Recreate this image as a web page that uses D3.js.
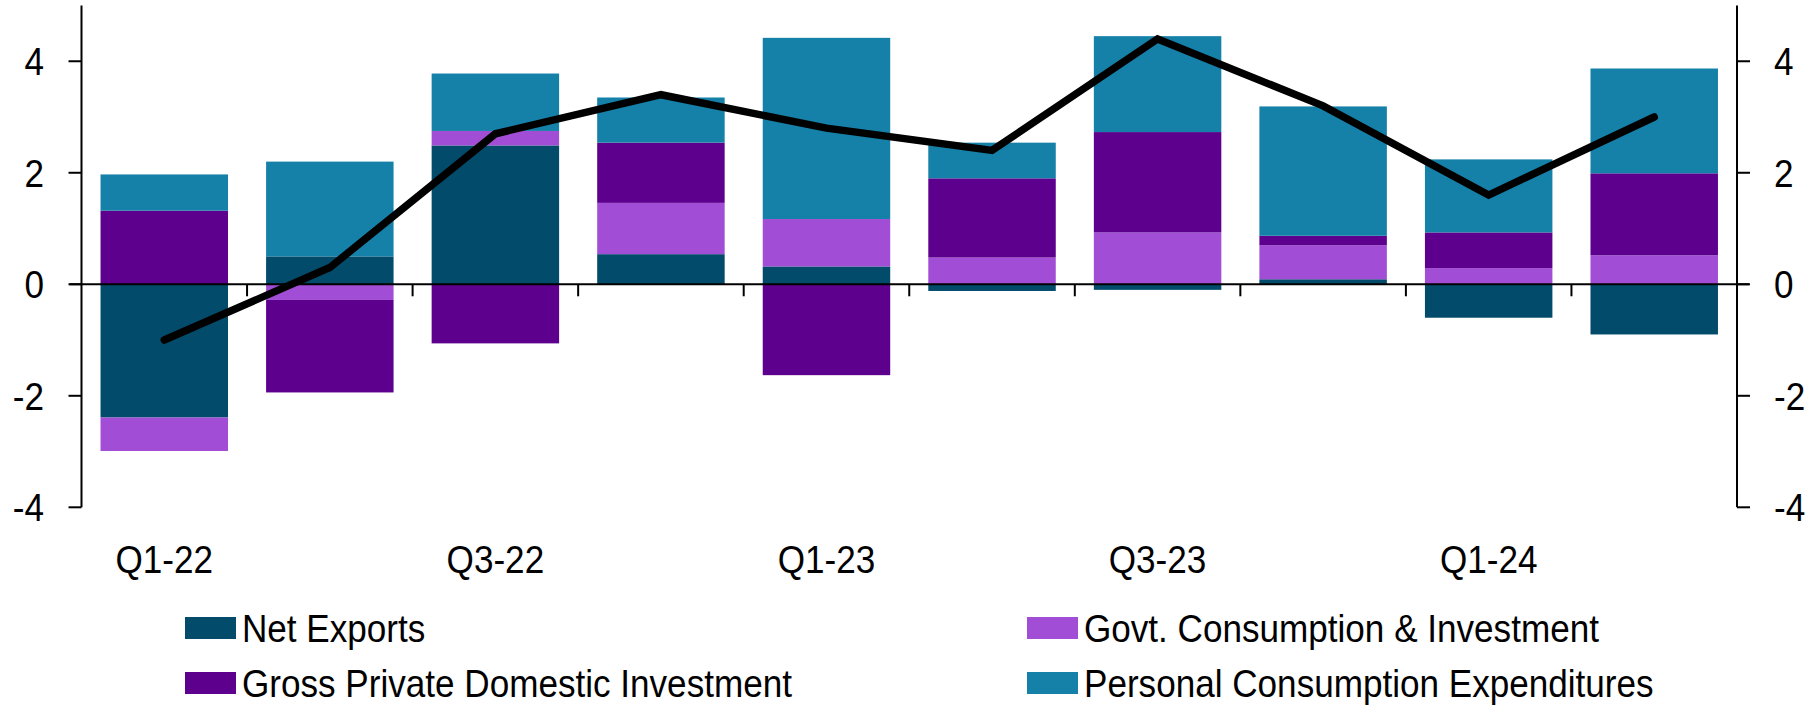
<!DOCTYPE html>
<html>
<head>
<meta charset="utf-8">
<script src="https://cdn.jsdelivr.net/npm/d3@7"></script>
<style>
  body { margin: 0; background: #fff; }
  svg text { font-family: "Liberation Sans", Arial, sans-serif; fill: #000; }
</style>
</head>
<body>
<svg id="chart" width="1816" height="708"></svg>
<script>
/* data */
var quarters = ["Q1-22","Q2-22","Q3-22","Q4-22","Q1-23","Q2-23","Q3-23","Q4-23","Q1-24","Q2-24"]
var shownLabels = ["Q1-22","Q3-22","Q1-23","Q3-23","Q1-24"]
var netExports = [-2.39, 0.50, 2.49, 0.54, 0.32, -0.12, -0.10, 0.09, -0.60, -0.90]
var govt       = [-0.60, -0.28, 0.26, 0.92, 0.85, 0.48, 0.93, 0.61, 0.29, 0.52]
var gpdi       = [1.32, -1.66, -1.06, 1.08, -1.63, 1.42, 1.80, 0.17, 0.64, 1.47]
var pce        = [0.65, 1.70, 1.03, 0.81, 3.25, 0.64, 1.72, 2.32, 1.31, 1.88]
var gdp        = [-1.0, 0.3, 2.7, 3.4, 2.8, 2.4, 4.4, 3.2, 1.6, 3.0]
var yTicks = [-4, -2, 0, 2, 4]

var seriesKeys = ["Net Exports","Govt. Consumption & Investment","Gross Private Domestic Investment","Personal Consumption Expenditures"]
var seriesColors = ["#034b6b","#a24dd6","#5e008e","#1580a8"]

/* layout */
var plotLeft = 81.5, plotRight = 1737, plotTop = 5.5, plotBottom = 507.3
var squeeze = 0.9 // text is a bit narrow in the original

var svg = d3.select("#chart")

var x = d3.scaleBand().domain(quarters).range([plotLeft, plotRight]).paddingInner(0.23).paddingOuter(0.115)
var xb = d3.scaleBand().domain(quarters).range([plotLeft, plotRight])
var y = d3.scaleLinear().domain([-4, 5]).range([plotBottom, plotTop])

var color = d3.scaleOrdinal().domain(seriesKeys).range(seriesColors)

function place(px, py) {
    return "translate(" + px + "," + py + ") scale(" + squeeze + ",1)"
}

// build rows for the stack
var rows = quarters.map(function(q, i) {
    var r = {q: q}
    r[seriesKeys[0]] = netExports[i]
    r[seriesKeys[1]] = govt[i]
    r[seriesKeys[2]] = gpdi[i]
    r[seriesKeys[3]] = pce[i]
    return r
})

var stacked = d3.stack().keys(seriesKeys).offset(d3.stackOffsetDiverging)(rows)

/* bars */
svg.append("g").attr("class","bars")
    .selectAll("g")
    .data(stacked)
    .enter()
    .append("g")
    .attr("fill", function(s) { return color(s.key) })
    .selectAll("rect")
    .data(function(s) { return s })
    .enter()
    .append("rect")
    .attr("x", function(d) { return x(d.data.q) })
    .attr("width", x.bandwidth())
    .attr("y", function(d) { return y(Math.max(d[0], d[1])) })
    .attr("height", function(d) { return Math.abs(y(d[0]) - y(d[1])) })

/* zero line */
svg.append("line")
    .attr("x1", plotLeft - 12).attr("x2", plotRight + 12)
    .attr("y1", y(0)).attr("y2", y(0))
    .attr("stroke", "#000").attr("stroke-width", 2)

/* x ticks at band boundaries */
svg.append("g")
    .selectAll("line")
    .data(quarters.slice(1))
    .enter()
    .append("line")
    .attr("x1", function(q) { return xb(q) }).attr("x2", function(q) { return xb(q) })
    .attr("y1", y(0)).attr("y2", y(0) + 12)
    .attr("stroke", "#000").attr("stroke-width", 2)

/* x labels */
svg.append("g")
    .selectAll("text")
    .data(shownLabels)
    .enter()
    .append("text")
    .attr("transform", function(q) { return place(xb(q) + xb.bandwidth() / 2, 573) })
    .attr("text-anchor", "middle")
    .attr("font-size", 39)
    .text(function(q) { return q })

/* left axis */
var leftAxis = svg.append("g")
leftAxis.append("line")
    .attr("x1", plotLeft).attr("x2", plotLeft).attr("y1", plotTop).attr("y2", plotBottom)
    .attr("stroke", "#000").attr("stroke-width", 2)
leftAxis.selectAll(".tk").data(yTicks).enter().append("line")
    .attr("x1", plotLeft - 13).attr("x2", plotLeft)
    .attr("y1", function(d) { return y(d) }).attr("y2", function(d) { return y(d) })
    .attr("stroke", "#000").attr("stroke-width", 2)
leftAxis.selectAll("text").data(yTicks).enter().append("text")
    .attr("transform", function(d) { return place(44, y(d) + 14) })
    .attr("text-anchor", "end")
    .attr("font-size", 39)
    .text(function(d) { return d })

/* right axis */
var rightAxis = svg.append("g")
rightAxis.append("line")
    .attr("x1", plotRight).attr("x2", plotRight).attr("y1", plotTop).attr("y2", plotBottom)
    .attr("stroke", "#000").attr("stroke-width", 2)
rightAxis.selectAll(".tk").data(yTicks).enter().append("line")
    .attr("x1", plotRight).attr("x2", plotRight + 13)
    .attr("y1", function(d) { return y(d) }).attr("y2", function(d) { return y(d) })
    .attr("stroke", "#000").attr("stroke-width", 2)
rightAxis.selectAll("text").data(yTicks).enter().append("text")
    .attr("transform", function(d) { return place(1774, y(d) + 14) })
    .attr("font-size", 39)
    .text(function(d) { return d })

/* GDP line */
var line = d3.line()
    .x(function(d, i) { return xb(quarters[i]) + xb.bandwidth() / 2 })
    .y(function(d) { return y(d) })

svg.append("path")
    .datum(gdp)
    .attr("d", line)
    .attr("fill", "none")
    .attr("stroke", "#000")
    .attr("stroke-width", 7.5)
    .attr("stroke-linecap", "round")

/* legend */
var legendPos = [[185, 617], [1027, 617], [185, 672], [1027, 672]]
var leg = svg.append("g").selectAll("g")
    .data(seriesKeys)
    .enter()
    .append("g")
    .attr("transform", function(d, i) { return "translate(" + legendPos[i][0] + "," + legendPos[i][1] + ")" })
leg.append("rect")
    .attr("width", 51).attr("height", 22)
    .attr("fill", function(d) { return color(d) })
leg.append("text")
    .attr("transform", place(57, 25))
    .attr("font-size", 39)
    .text(function(d) { return d })
</script>
</body>
</html>
